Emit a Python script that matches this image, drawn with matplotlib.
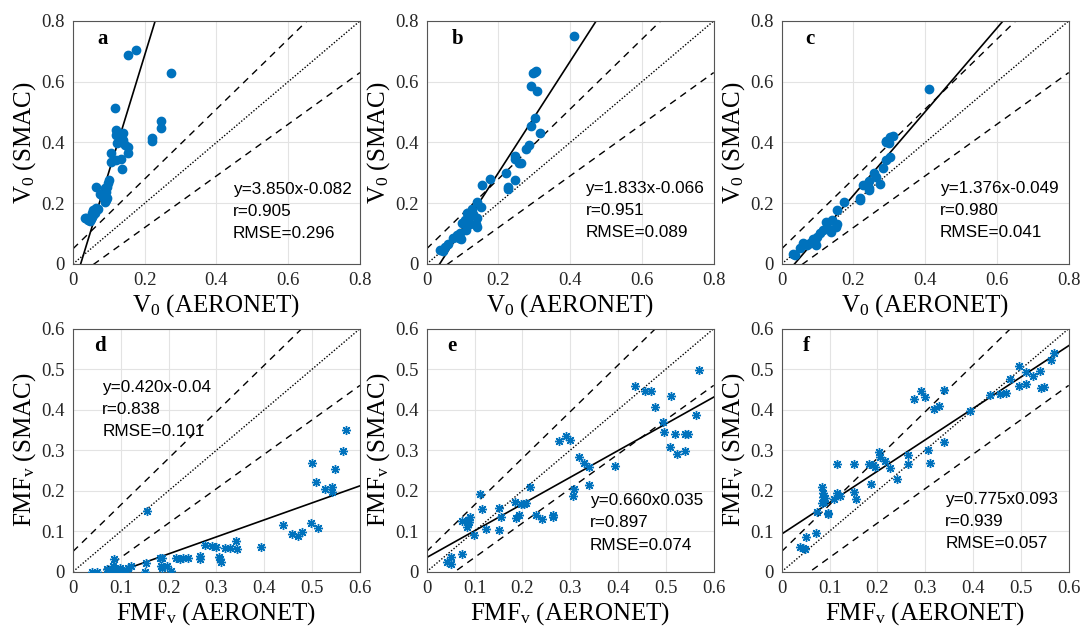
import numpy as np
import matplotlib
matplotlib.use('Agg')
import matplotlib.pyplot as plt

plt.rcParams['font.family'] = 'serif'
plt.rcParams['font.serif'] = ['Liberation Serif', 'DejaVu Serif']
plt.rcParams['mathtext.fontset'] = 'custom'
plt.rcParams['mathtext.rm'] = 'Liberation Serif'
plt.rcParams['mathtext.it'] = 'Liberation Serif:italic'

#### data ####
a_x = [0.1535, 0.177, 0.274, 0.116, 0.2465, 0.2465, 0.2205, 0.2205, 0.121, 0.119, 0.1395, 0.1395,
       0.135, 0.123, 0.144, 0.1535, 0.1535, 0.107, 0.107, 0.121, 0.135, 0.1377, 0.1005, 0.098, 0.096,
       0.088, 0.063, 0.093, 0.0744, 0.084, 0.096, 0.093, 0.088, 0.065, 0.070, 0.056, 0.053, 0.060,
       0.037, 0.0326, 0.042, 0.0465, 0.051, 0.053, 0.056]
a_y = [0.687, 0.703, 0.629, 0.515, 0.470, 0.449, 0.415, 0.405, 0.4405, 0.424, 0.4295, 0.4077,
       0.400, 0.397, 0.391, 0.3836, 0.364, 0.364, 0.336, 0.342, 0.346, 0.312, 0.276, 0.267, 0.254,
       0.249, 0.254, 0.238, 0.230, 0.221, 0.218, 0.210, 0.203, 0.183, 0.180, 0.1775, 0.1666, 0.1666,
       0.150, 0.150, 0.1447, 0.1425, 0.147, 0.1556, 0.161]

b_x = [0.4116, 0.3006, 0.3034, 0.296, 0.291, 0.307, 0.303, 0.2895, 0.3145, 0.285, 0.2756, 0.245,
       0.245, 0.257, 0.2636, 0.220, 0.1757, 0.1545, 0.245, 0.2275, 0.2266, 0.1406, 0.1526, 0.1249,
       0.1128, 0.1295, 0.139, 0.099, 0.120, 0.1406, 0.137, 0.109, 0.0925, 0.0953, 0.0906, 0.074,
       0.060, 0.0509, 0.037, 0.0444, 0.085, 0.106, 0.118]
b_y = [0.7496, 0.632, 0.6356, 0.629, 0.585, 0.569, 0.479, 0.4537, 0.4296, 0.391, 0.377, 0.355,
       0.344, 0.333, 0.334, 0.298, 0.279, 0.2597, 0.278, 0.254, 0.2466, 0.205, 0.186, 0.1797,
       0.1666, 0.163, 0.150, 0.1337, 0.1315, 0.1227, 0.1315, 0.1118, 0.103, 0.081, 0.0844, 0.0844,
       0.0658, 0.057, 0.046, 0.0438, 0.0953, 0.1447, 0.1556]

c_x = [0.411, 0.309, 0.3016, 0.292, 0.300, 0.290, 0.3016, 0.292, 0.283, 0.257, 0.2627, 0.2738,
       0.244, 0.244, 0.244, 0.2274, 0.218, 0.218, 0.1745, 0.153, 0.153, 0.1513, 0.139, 0.1234,
       0.125, 0.1374, 0.116, 0.107, 0.0975, 0.093, 0.0956, 0.0789, 0.060, 0.051, 0.0325, 0.037,
       0.0696, 0.0863]
c_y = [0.5775, 0.421, 0.4164, 0.405, 0.397, 0.400, 0.3507, 0.342, 0.3145, 0.298, 0.287, 0.262,
       0.273, 0.249, 0.243, 0.2597, 0.216, 0.2104, 0.2027, 0.1775, 0.1315, 0.1227, 0.1447, 0.139,
       0.1227, 0.1063, 0.1118, 0.1008, 0.0899, 0.0767, 0.0625, 0.068, 0.070, 0.0515, 0.0329, 0.0296,
       0.0625, 0.0811]

d_x = [0.5707, 0.565, 0.5477, 0.4988, 0.509, 0.5267, 0.5407, 0.5407, 0.4967, 0.5128, 0.438, 0.457,
       0.471, 0.479, 0.394, 0.340, 0.342, 0.328, 0.317, 0.300, 0.2916, 0.277, 0.3056, 0.308, 0.310,
       0.265, 0.265, 0.2407, 0.229, 0.223, 0.216, 0.2058, 0.197, 0.187, 0.181, 0.185, 0.187, 0.155,
       0.152, 0.150, 0.122, 0.115, 0.110, 0.0977, 0.089, 0.085, 0.0837, 0.0767, 0.072, 0.050,
       0.0405, 0.094, 0.101]
d_y = [0.350, 0.299, 0.253, 0.268, 0.2225, 0.204, 0.210, 0.198, 0.1195, 0.107, 0.115, 0.093,
       0.089, 0.097, 0.060, 0.0766, 0.055, 0.0577, 0.0577, 0.062, 0.0635, 0.066, 0.037, 0.0305, 0.023,
       0.0387, 0.0305, 0.0346, 0.033, 0.0305, 0.033, 0.0016, 0.014, 0.033, 0.0346, 0.014, 0.0099, 0.1508,
       0.0206, 0.0, 0.014, 0.0099, 0.0016, 0.0099, 0.0058, 0.0305, 0.014, 0.0016, 0.0058, 0.0,
       0.0, 0.0, 0.004]

e_x = [0.570, 0.4356, 0.456, 0.4696, 0.511, 0.477, 0.562, 0.4945, 0.496, 0.519, 0.541, 0.546,
       0.5077, 0.5237, 0.539, 0.291, 0.300, 0.276, 0.3177, 0.328, 0.340, 0.393, 0.340, 0.3087, 0.305,
       0.217, 0.208, 0.2035, 0.198, 0.185, 0.192, 0.187, 0.2275, 0.241, 0.265, 0.265, 0.151, 0.156,
       0.151, 0.1235, 0.116, 0.111, 0.090, 0.0867, 0.0846, 0.0888, 0.0728, 0.0985, 0.074, 0.0506,
       0.043, 0.050, 0.0853]
e_y = [0.497, 0.459, 0.4467, 0.445, 0.4327, 0.406, 0.387, 0.369, 0.345, 0.341, 0.341, 0.341,
       0.309, 0.2918, 0.299, 0.334, 0.324, 0.323, 0.284, 0.2695, 0.2596, 0.262, 0.214, 0.204, 0.187,
       0.2085, 0.169, 0.167, 0.167, 0.173, 0.140, 0.132, 0.140, 0.130, 0.140, 0.134, 0.1566, 0.136,
       0.103, 0.1055, 0.155, 0.192, 0.134, 0.1278, 0.111, 0.1236, 0.126, 0.0907, 0.0437, 0.0354,
       0.023, 0.019, 0.117]

f_x = [0.570, 0.5637, 0.496, 0.5407, 0.525, 0.510, 0.4765, 0.4953, 0.511, 0.542, 0.5477, 0.4695,
       0.4556, 0.436, 0.3928, 0.340, 0.2916, 0.300, 0.2756, 0.3174, 0.328, 0.340, 0.3049, 0.309,
       0.265, 0.265, 0.2407, 0.2267, 0.216, 0.2044, 0.2058, 0.1919, 0.1953, 0.1835, 0.1863, 0.1507,
       0.152, 0.1556, 0.115, 0.115, 0.122, 0.110, 0.0963, 0.0977, 0.0886, 0.0837, 0.087, 0.0858,
       0.0907, 0.0837, 0.0733, 0.0719, 0.051, 0.0384, 0.044, 0.0488]
f_y = [0.540, 0.523, 0.507, 0.496, 0.4838, 0.492, 0.4755, 0.459, 0.463, 0.453, 0.4558, 0.4409,
       0.439, 0.4368, 0.397, 0.4475, 0.445, 0.431, 0.427, 0.401, 0.408, 0.319, 0.300, 0.2695,
       0.2885, 0.2654, 0.229, 0.257, 0.2736, 0.2967, 0.284, 0.2646, 0.2596, 0.2654, 0.216, 0.266,
       0.197, 0.1788, 0.266, 0.195, 0.188, 0.1797, 0.1434, 0.144, 0.173, 0.210, 0.1937, 0.1854,
       0.181, 0.1706, 0.1467, 0.0948, 0.0849, 0.0618, 0.0577, 0.0552]

# regression: slope, intercept, label text
slopes = [3.850, 1.833, 1.376, 0.420, 0.660, 0.775]
intercepts = [-0.082, -0.066, -0.049, -0.04, 0.035, 0.093]
stats_text = ['y=3.850x-0.082\nr=0.905\nRMSE=0.296',
              'y=1.833x-0.066\nr=0.951\nRMSE=0.089',
              'y=1.376x-0.049\nr=0.980\nRMSE=0.041',
              'y=0.420x-0.04\nr=0.838\nRMSE=0.101',
              'y=0.660x0.035\nr=0.897\nRMSE=0.074',
              'y=0.775x0.093\nr=0.939\nRMSE=0.057']
letters = ['a', 'b', 'c', 'd', 'e', 'f']
xs = [a_x, b_x, c_x, d_x, e_x, f_x]
ys = [a_y, b_y, c_y, d_y, e_y, f_y]

blue = '#0072BD'
fig = plt.figure(figsize=(10.83, 6.27), dpi=100)

lefts = [0.0674, 0.394, 0.7218]
bottoms = [0.579, 0.0882]
w, h = 0.265, 0.3876
# text anchors (axes fraction) for stats and panel letters
txt_pos = [(0.556, 0.338), (0.553, 0.341), (0.551, 0.341), (0.102, 0.79), (0.569, 0.323), (0.570, 0.330)]
let_pos = [(0.084, 0.907), (0.087, 0.907), (0.081, 0.907), (0.072, 0.907), (0.072, 0.907), (0.072, 0.907)]

for i in range(6):
    row, col = i // 3, i % 3
    ax = fig.add_axes([lefts[col], bottoms[row], w, h])
    top = 0.8 if row == 0 else 0.6
    t = np.linspace(0, top, 200)

    ax.plot(t, t, '-', color='k', lw=1.0, dashes=(1, 1.3))
    ax.plot(t, 1.15 * t + 0.05, '--', color='k', lw=1.0, dashes=(5, 4))
    ax.plot(t, 0.85 * t - 0.05, '--', color='k', lw=1.0, dashes=(5, 4))
    ax.plot(t, slopes[i] * t + intercepts[i], '-', color='k', lw=1.2)

    if row == 0:
        ax.plot(xs[i], ys[i], 'o', color=blue, ms=6, mec=blue, ls='none', zorder=3)
        ax.set_xticks([0, 0.2, 0.4, 0.6, 0.8])
        ax.set_yticks([0, 0.2, 0.4, 0.6, 0.8])
        ax.set_xticklabels(['0', '0.2', '0.4', '0.6', '0.8'])
        ax.set_yticklabels(['0', '0.2', '0.4', '0.6', '0.8'])
        ax.set_xlabel(r'V$_0$ (AERONET)', fontsize=18, labelpad=2)
        ax.set_ylabel(r'V$_0$ (SMAC)', fontsize=18, labelpad=2)
    else:
        ax.plot(xs[i], ys[i], marker=(8, 2, 0), color=blue, ms=6.5, mew=1.0, ls='none', zorder=3)
        ticks = [0, 0.1, 0.2, 0.3, 0.4, 0.5, 0.6]
        ax.set_xticks(ticks)
        ax.set_yticks(ticks)
        ax.set_xticklabels(['0', '0.1', '0.2', '0.3', '0.4', '0.5', '0.6'])
        ax.set_yticklabels(['0', '0.1', '0.2', '0.3', '0.4', '0.5', '0.6'])
        ax.set_xlabel(r'FMF$_\mathrm{v}$ (AERONET)', fontsize=18, labelpad=2)
        ax.set_ylabel(r'FMF$_\mathrm{v}$ (SMAC)', fontsize=18, labelpad=2)

    ax.set_xlim(0, top)
    ax.set_ylim(0, top)
    ax.grid(True, color='#e3e3e3', lw=0.8)
    ax.set_axisbelow(True)
    for s in ax.spines.values():
        s.set_color('#555555')
        s.set_linewidth(0.8)
    ax.tick_params(direction='in', length=0, labelsize=13.5, colors='#262626', pad=6)

    ax.text(txt_pos[i][0], txt_pos[i][1], stats_text[i], transform=ax.transAxes,
            fontsize=12.3, family='Liberation Sans', va='top', ha='left', linespacing=1.6)
    ax.text(let_pos[i][0], let_pos[i][1], letters[i], transform=ax.transAxes,
            fontsize=15, fontweight='bold', va='baseline', ha='left')

fig.savefig('out.png', dpi=100)
